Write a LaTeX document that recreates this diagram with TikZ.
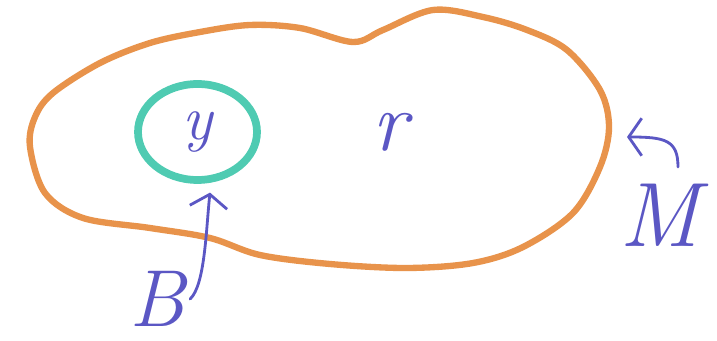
\documentclass[tikz,border=0pt]{standalone}
\usetikzlibrary{shapes.geometric,arrows.meta}
\definecolor{blobcol}{HTML}{E8934B}
\definecolor{ballcol}{HTML}{4FCBB2}
\definecolor{inkcol}{HTML}{5B57C4}
\tikzset{
  pen/.style={draw=inkcol, line width=1.6pt, line cap=round, -{Straight Barb[length=2.6mm,width=7.5mm]}},
  letter/.style={text=inkcol, inner sep=1mm}
}
\begin{document}
\begin{tikzpicture}
	\useasboundingbox (0,0) rectangle (14.34,-6.82);

	% The set M
	\draw[blobcol, line width=3.6pt] plot[smooth cycle, tension=0.55] coordinates {
		(0.60,-2.94) (0.70,-2.34) (1.06,-1.86) (2.00,-1.26) (3.00,-0.86) (4.00,-0.64) (5.00,-0.50) (6.00,-0.56)
		(7.06,-0.84) (7.66,-0.60) (8.66,-0.20) (9.66,-0.34) (10.54,-0.60) (11.34,-1.00)
		(12.00,-1.80) (12.18,-2.54) (12.00,-3.34) (11.46,-4.26) (10.46,-4.94) (9.46,-5.26)
		(8.14,-5.36) (6.60,-5.28) (5.20,-5.10) (4.20,-4.76) (3.00,-4.56) (1.66,-4.36) (0.90,-3.86)};

	% The ball B
	\node[draw=ballcol, line width=4.4pt, ellipse, inner sep=0pt, minimum width=2.38cm, minimum height=1.92cm,
		text=inkcol, font=\fontsize{36}{36}\selectfont\itshape] (ball) at (3.95,-2.64) {y};

	% Labels
	\node[letter, font=\fontsize{48}{48}\selectfont\itshape] (rlabel) at (7.80,-2.64) {r};
	\node[letter, font=\fontsize{46}{46}\selectfont\itshape] (Blabel) at (3.14,-5.98) {B};
	\node[letter, font=\fontsize{52}{52}\selectfont\itshape] (Mlabel) at (13.20,-4.30) {M};

	% Arrows
	\draw[pen, shorten >=2mm] (Blabel.east) .. controls (4.10,-5.70) and (4.12,-4.60) .. (ball.-75);
	\coordinate (Mtail) at (13.56,-3.34);
	\coordinate (Medge) at (12.54,-2.74);
	\draw[pen] (Mtail) .. controls (13.56,-2.80) and (13.30,-2.74) .. (Medge);
\end{tikzpicture}
\end{document}
